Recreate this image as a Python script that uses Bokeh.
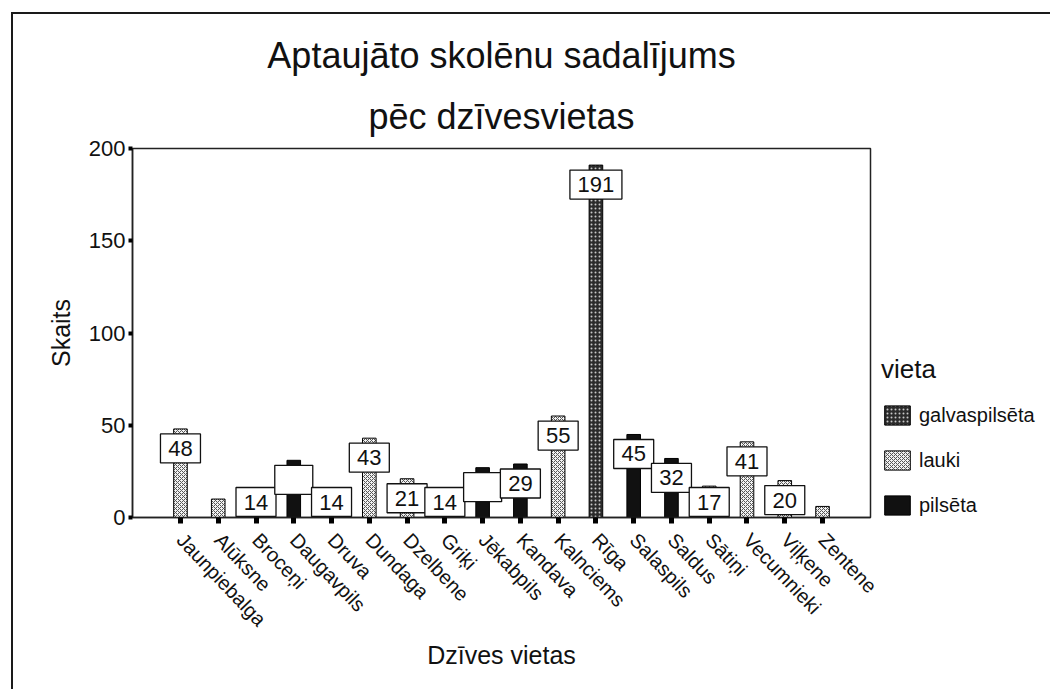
import numpy as np
from bokeh.plotting import figure
from bokeh.models import (ColumnDataSource, FactorRange, Range1d, Title, Legend,
                          LegendItem, FixedTicker)
from bokeh.core.properties import value
from bokeh.embed import file_html
from bokeh.resources import INLINE

# ---------------- data ----------------
categories = ["Jaunpiebalga", "Alūksne", "Broceņi", "Daugavpils", "Druva", "Dundaga",
              "Dzelbene", "Griķi", "Jēkabpils", "Kandava", "Kalnciems", "Rīga",
              "Salaspils", "Saldus", "Sātiņi", "Vecumnieki", "Viļķene", "Zentene"]
counts = [48, 10, 14, 31, 14, 43, 21, 14, 27, 29, 55, 191, 45, 32, 17, 41, 20, 6]
vieta = ["lauki", "lauki", "pilsēta", "pilsēta", "lauki", "lauki", "lauki", "lauki",
         "pilsēta", "pilsēta", "lauki", "galvaspilsēta", "pilsēta", "pilsēta",
         "lauki", "lauki", "lauki", "lauki"]
# value labels shown in boxes ("" = empty box, None = no box)
labels = ["48", None, "14", "", "14", "43", "21", "14", "", "29", "55", "191",
          "45", "32", "17", "41", "20", None]
legend_groups = ["galvaspilsēta", "lauki", "pilsēta"]
y_ticks = [0, 50, 100, 150, 200]

title_line1 = "Aptaujāto skolēnu sadalījums"
title_line2 = "pēc dzīvesvietas"

# ---------------- styling ----------------
FONT = "Liberation Sans"
FW, FH = 738, 369
MB_L, MB_R, MB_T, MB_B = 119, 178, 134, 172
Y_MAX = 200

group_style = {
    "galvaspilsēta": dict(fill_color="#2b2b2b", hatch_pattern="dot", hatch_color="#c8c8c8",
                          hatch_scale=4, hatch_weight=1),
    "lauki": dict(fill_color="#f2f2f2", hatch_pattern="diagonal_cross", hatch_color="#555555",
                  hatch_scale=4, hatch_weight=1),
    "pilsēta": dict(fill_color="#111111"),
}

p = figure(frame_width=FW, frame_height=FH,
           x_range=FactorRange(*categories, range_padding=0.77, range_padding_units="absolute"),
           y_range=Range1d(0, Y_MAX),
           output_backend="svg", toolbar_location=None,
           min_border_left=MB_L, min_border_right=MB_R,
           min_border_top=MB_T, min_border_bottom=MB_B)
# outer chart border (left and top edges, as in the scanned original)
p.styles = {"border-left": "2px solid #1a1a1a", "border-top": "2px solid #1a1a1a",
            "margin-left": "11px", "margin-top": "12px"}

p.xgrid.grid_line_color = None
p.ygrid.grid_line_color = None
p.outline_line_color = "#222222"
p.outline_line_width = 1.5
p.background_fill_color = "white"
p.border_fill_color = "white"

# titles (later-added titles sit closer to the frame)
p.title.text = title_line1
p.title.align = "center"
p.title.text_font = FONT
p.title.text_font_size = "36px"
p.title.text_font_style = "normal"
p.title.text_color = "#111111"
p.title.standoff = 14
p.add_layout(Title(text=title_line2, align="center", text_font=FONT, text_font_size="36px",
                   text_font_style="normal", text_color="#111111", standoff=23), "above")

# bars
items = []
for g in legend_groups:
    idx = [i for i, v in enumerate(vieta) if v == g]
    src = ColumnDataSource(dict(x=[categories[i] for i in idx], top=[counts[i] for i in idx]))
    r = p.vbar(x="x", top="top", bottom=0, width=0.36, source=src,
               line_color="black", line_width=1, **group_style[g])
    items.append(LegendItem(label=g, renderers=[r]))

# label boxes
k = FH / Y_MAX  # px per unit
BOX_H = 29
bx, by, bw, bt = [], [], [], []
for c, v, lab in zip(categories, counts, labels):
    if lab is None:
        continue
    top = max(v - 5 / k, (BOX_H + 1) / k)
    bx.append(c)
    by.append(top - (BOX_H / 2) / k)
    bw.append(38 if lab == "" else 16 + 12 * len(lab))
    bt.append(lab)
bsrc = ColumnDataSource(dict(x=bx, y=by, w=bw, t=bt))
p.rect(x="x", y="y", width="w", height=BOX_H, width_units="screen", height_units="screen",
       source=bsrc, fill_color="white", line_color="#111111", line_width=1.3)
p.text(x="x", y="y", text="t", source=bsrc, text_align="center", text_baseline="middle",
       text_font=value(FONT), text_font_size="22px", text_color="#111111")

# axes
p.yaxis.ticker = FixedTicker(ticks=y_ticks)
p.yaxis.axis_label = "Skaits"
p.xaxis.axis_label = "Dzīves vietas"
for ax in (p.xaxis[0], p.yaxis[0]):
    ax.axis_label_text_font = FONT
    ax.axis_label_text_font_size = "25px"
    ax.axis_label_text_font_style = "normal"
    ax.axis_label_text_color = "#111111"
    ax.major_label_text_font = FONT
    ax.major_label_text_color = "#111111"
    ax.axis_line_color = "#222222"
    ax.axis_line_width = 1.5
    ax.minor_tick_line_color = None
    ax.major_tick_in = 0
    ax.major_tick_line_color = "black"
p.yaxis.major_label_text_font_size = "22px"
p.yaxis.major_tick_out = 4
p.yaxis.major_tick_line_width = 4
p.yaxis.major_label_standoff = 3
p.yaxis.axis_label_standoff = 11
p.xaxis.major_label_text_font_size = "20px"
p.xaxis.major_label_orientation = -0.81
p.xaxis.major_tick_out = 6
p.xaxis.major_tick_line_width = 5
p.xaxis.major_label_standoff = 13
p.xaxis.axis_label_standoff = 0

legend = Legend(items=items, title="vieta", location=(11, 0), orientation="vertical",
                glyph_width=32, glyph_height=24, spacing=21, label_standoff=6,
                label_text_font=FONT, label_text_font_size="20px", label_text_color="#111111",
                title_text_font=FONT, title_text_font_size="26px", title_text_font_style="normal",
                title_text_color="#111111", title_standoff=18,
                border_line_color=None, background_fill_alpha=0, padding=0, margin=0)
p.add_layout(legend, "right")

open("out.html", "w").write(file_html(p, INLINE))
